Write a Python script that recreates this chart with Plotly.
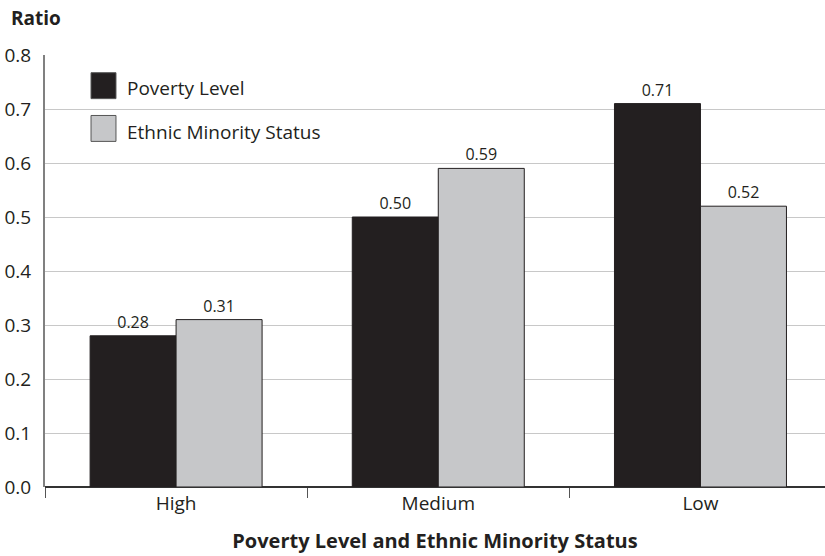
import plotly.graph_objects as go

categories = ["High", "Medium", "Low"]
poverty = [0.28, 0.50, 0.71]
ethnic = [0.31, 0.59, 0.52]
series_names = ["Poverty Level", "Ethnic Minority Status"]
y_ticks = [0.0, 0.1, 0.2, 0.3, 0.4, 0.5, 0.6, 0.7, 0.8]

BLACK = "#231f20"
GRAY = "#c6c7c9"
FONT = "Open Sans"

fig = go.Figure()
fig.add_trace(go.Bar(
    x=categories, y=poverty, name=series_names[0],
    marker=dict(color=BLACK, line=dict(color=BLACK, width=1)),
    text=[f"{v:.2f}" for v in poverty], textposition="outside",
    textfont=dict(size=16, color=BLACK, family=FONT), cliponaxis=False,
))
fig.add_trace(go.Bar(
    x=categories, y=ethnic, name=series_names[1],
    marker=dict(color=GRAY, line=dict(color=BLACK, width=1)),
    text=[f"{v:.2f}" for v in ethnic], textposition="outside",
    textfont=dict(size=16, color=BLACK, family=FONT), cliponaxis=False,
))

# legend drawn as keys + text
legend_keys = [(0.959, 0.899, BLACK, 0.924), (0.860, 0.800, GRAY, 0.822)]
shapes = []
annotations = []
for (y1, y0, col, ty), name in zip(legend_keys, series_names):
    shapes.append(dict(type="rect", xref="paper", yref="paper", x0=0.059, x1=0.091,
                       y0=y0, y1=y1, fillcolor=col, line=dict(color="#555555", width=1)))
    annotations.append(dict(xref="paper", yref="paper", x=0.102, y=ty, text=name,
                            showarrow=False, xanchor="left", yanchor="middle",
                            font=dict(size=19, color=BLACK, family=FONT)))

annotations.append(dict(xref="paper", yref="paper", x=-0.046, y=1.0, yshift=37,
                        text="<b>Ratio</b>", showarrow=False, xanchor="left", yanchor="middle",
                        font=dict(size=19, color=BLACK, family=FONT)))

fig.update_layout(
    width=825, height=556,
    margin=dict(l=45, r=0, t=55, b=69),
    paper_bgcolor="white", plot_bgcolor="white",
    barmode="group", bargap=0.344, bargroupgap=0,
    showlegend=False,
    font=dict(family=FONT, color=BLACK, size=19),
    shapes=shapes, annotations=annotations,
    xaxis=dict(
        range=[-0.5, 2.475], tickson="boundaries", ticks="outside", ticklen=10,
        tickcolor="#555555", tickwidth=1, showgrid=False,
        showline=False, zeroline=False, ticklabelstandoff=3,
        tickfont=dict(size=19, color=BLACK, family=FONT),
        title=dict(text="<b>Poverty Level and Ethnic Minority Status</b>",
                   font=dict(size=20, color=BLACK, family=FONT), standoff=18),
    ),
    yaxis=dict(
        range=[0, 0.8], tickvals=y_ticks, ticktext=[f"{v:.1f}" for v in y_ticks],
        showgrid=True, gridcolor="#c8c8c8", gridwidth=1,
        showline=True, linecolor="#808080", linewidth=2,
        zeroline=True, zerolinecolor="#333333", zerolinewidth=2,
        ticks="", ticklabelstandoff=8,
        tickfont=dict(size=19, color=BLACK, family=FONT),
    ),
)

fig.write_html("out.html")
